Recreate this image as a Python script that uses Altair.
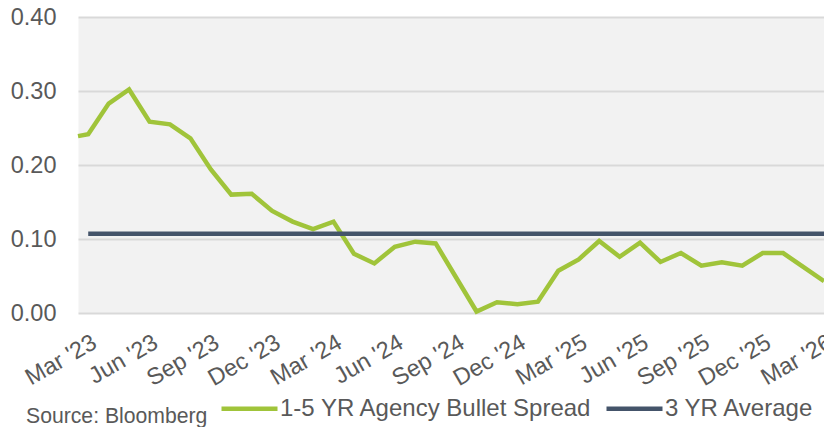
import json
import altair as alt
import pandas as pd

# ---------------- data ----------------
# month index: 0 = Mar '23 ... 36 = Mar '26 (first point is mid-Feb '23)
month_idx = [-0.5, 0, 1, 2, 3, 4, 5, 6, 7, 8, 9, 10, 11, 12, 13, 14, 15, 16, 17, 18,
             19, 20, 21, 22, 23, 24, 25, 26, 27, 28, 29, 30, 31, 32, 33, 34, 35, 36]
spread = [0.239, 0.2415, 0.283, 0.302, 0.2585, 0.255, 0.236, 0.194, 0.160, 0.161,
          0.138, 0.1235, 0.1135, 0.1235, 0.080, 0.067, 0.0896, 0.0964, 0.094, 0.048,
          0.002, 0.0145, 0.012, 0.0153, 0.057, 0.0725, 0.0973, 0.076, 0.095, 0.069,
          0.081, 0.064, 0.0685, 0.064, 0.081, 0.081, 0.062, 0.043]
avg_idx = [0, 36]
avg_value = [0.107, 0.107]

series_names = ["1-5 YR Agency Bullet Spread", "3 YR Average"]
series_colors = ["#A0C43A", "#44546A"]

tick_positions = [0, 3, 6, 9, 12, 15, 18, 21, 24, 27, 30, 33, 36]
tick_labels = ["Mar '23", "Jun '23", "Sep '23", "Dec '23", "Mar '24", "Jun '24", "Sep '24",
               "Dec '24", "Mar '25", "Jun '25", "Sep '25", "Dec '25", "Mar '26"]
y_ticks = [0.0, 0.1, 0.2, 0.3, 0.4]
source_text = ["Source: Bloomberg"]

# ---------------- tables ----------------
spread_df = pd.DataFrame({"idx": month_idx, "value": spread, "series": series_names[0]})
avg_df = pd.DataFrame({"idx": avg_idx, "value": avg_value, "series": series_names[1]})
source_df = pd.DataFrame({"text": source_text})

FONT = "Liberation Sans, Arial, sans-serif"
TEXT = "#595959"

x_enc = alt.X(
    "idx:Q",
    scale=alt.Scale(domain=[-0.5, 36], nice=False, zero=False),
    axis=alt.Axis(
        values=tick_positions,
        labelExpr=f"{json.dumps(tick_labels)}[round(datum.value / 3)]",
        labelAngle=-30, labelAlign="right", labelBaseline="top",
        labelFontSize=23.5, labelColor=TEXT, labelFont=FONT,
        labelPadding=17, ticks=False, domain=False, grid=False,
        labelOverlap=False, labelFlush=False, labelBound=False, title=None,
    ),
)
y_enc = alt.Y(
    "value:Q",
    scale=alt.Scale(domain=[0, 0.4], nice=False),
    axis=alt.Axis(
        values=y_ticks, format=".2f",
        labelFontSize=23.5, labelColor=TEXT, labelFont=FONT,
        labelPadding=22, ticks=False, domain=False,
        grid=True, gridColor="#D9D9D9", gridWidth=2, title=None,
    ),
)
color_enc = alt.Color(
    "series:N",
    scale=alt.Scale(domain=series_names, range=series_colors),
    legend=alt.Legend(
        title=None, orient="none", direction="horizontal", columns=2,
        legendX=141, legendY=361,
        symbolType="stroke", symbolSize=3136, symbolStrokeWidth=4.5,
        labelFontSize=24, labelFont=FONT, labelColor=TEXT, labelLimit=0,
        labelOffset=0, columnPadding=4, padding=0,
    ),
)

spread_line = alt.Chart(spread_df).mark_line(strokeWidth=4.5).encode(
    x=x_enc, y=y_enc, color=color_enc
)
avg_line = alt.Chart(avg_df).mark_line(strokeWidth=4.5).encode(
    x=x_enc, y=y_enc, color=color_enc
)
source = alt.Chart(source_df).mark_text(
    align="left", baseline="alphabetic", fontSize=21.2, font=FONT, color=TEXT
).encode(
    x=alt.value(-52), y=alt.value(406), text="text:N"
)

chart = alt.layer(spread_line, avg_line, source).properties(
    width=746,
    height=296,
    autosize=alt.AutoSizeParams(type="none"),
    padding={"left": 70, "top": 9, "right": 0, "bottom": 114},
).configure(
    background="white"
).configure_view(
    fill="#F2F2F2", stroke="transparent"
)

chart.save("out.html", embed_options={"renderer": "svg", "actions": False})
